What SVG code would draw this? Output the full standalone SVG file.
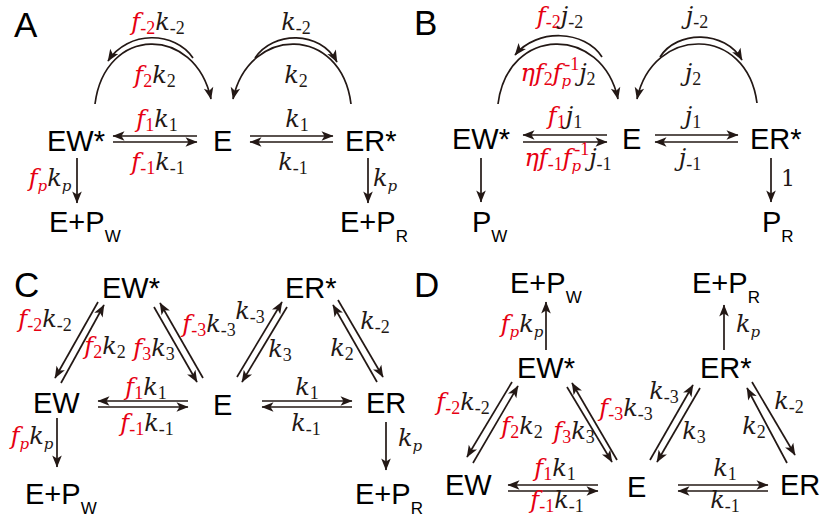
<svg xmlns="http://www.w3.org/2000/svg" width="820" height="527" viewBox="0 0 820 527">
<style>
.bg{fill:#fff}
.n{font-family:"Liberation Sans",Arial,sans-serif;font-size:29px;fill:#000}
.pl{font-family:"Liberation Sans",Arial,sans-serif;font-size:35px;fill:#000}
.sb{font-size:17px}
.m{font-family:"DejaVu Serif","Liberation Serif",serif;font-style:italic;font-size:24px;fill:#231815;text-anchor:middle}
.one{font-family:"DejaVu Serif","Liberation Serif",serif;font-size:22px;fill:#231815}
.r{fill:#e60012}
.s{font-family:"Liberation Serif",serif;font-size:18px;font-style:normal}
.sp{font-size:15px}
.ln{stroke:#231815;stroke-width:1.7;fill:none;marker-end:url(#ah)}
</style>
<defs>
<marker id="ah" viewBox="-13 -6 14 12" refX="0" refY="0" markerWidth="14" markerHeight="12" markerUnits="userSpaceOnUse" orient="auto">
<path d="M0.5,0 L-11.5,-4.8 L-8.5,0 L-11.5,4.8 Z" fill="#231815"/>
</marker>
</defs>
<rect class="bg" x="0" y="0" width="820" height="527"/>

<!-- Panel letters -->
<g id="labels">
<text class="pl" x="14" y="37">A</text>
<text class="pl" x="414" y="35">B</text>
<text class="pl" x="14" y="297">C</text>
<text class="pl" x="414" y="297">D</text>
</g>

<!-- Panel A nodes -->
<g id="A_EWs"><text class="n" x="47" y="151">EW*</text></g>
<g id="A_E"><text class="n" x="213" y="151">E</text></g>
<g id="A_ERs"><text class="n" x="345" y="151">ER*</text></g>
<g id="A_EPW"><text class="n" x="49" y="232">E+P<tspan class="sb" dy="10">W</tspan></text></g>
<g id="A_EPR"><text class="n" x="340" y="232">E+P<tspan class="sb" dy="10">R</tspan></text></g>

<!-- Panel B nodes -->
<g id="B_EWs"><text class="n" x="452" y="149">EW*</text></g>
<g id="B_E"><text class="n" x="622" y="149">E</text></g>
<g id="B_ERs"><text class="n" x="750" y="149">ER*</text></g>
<g id="B_PW"><text class="n" x="472" y="232">P<tspan class="sb" dy="10">W</tspan></text></g>
<g id="B_PR"><text class="n" x="762" y="232">P<tspan class="sb" dy="10">R</tspan></text></g>

<!-- Panel C nodes -->
<g id="C_EWs"><text class="n" x="102" y="298">EW*</text></g>
<g id="C_ERs"><text class="n" x="285" y="298">ER*</text></g>
<g id="C_EW"><text class="n" x="33" y="413">EW</text></g>
<g id="C_E"><text class="n" x="213" y="415">E</text></g>
<g id="C_ER"><text class="n" x="366" y="413">ER</text></g>
<g id="C_EPW"><text class="n" x="25" y="504">E+P<tspan class="sb" dy="10">W</tspan></text></g>
<g id="C_EPR"><text class="n" x="355" y="504">E+P<tspan class="sb" dy="10">R</tspan></text></g>

<!-- Panel D nodes -->
<g id="D_EPW"><text class="n" x="510" y="293">E+P<tspan class="sb" dy="10">W</tspan></text></g>
<g id="D_EPR"><text class="n" x="692" y="293">E+P<tspan class="sb" dy="10">R</tspan></text></g>
<g id="D_EWs"><text class="n" x="517" y="378">EW*</text></g>
<g id="D_ERs"><text class="n" x="700" y="378">ER*</text></g>
<g id="D_EW"><text class="n" x="445" y="495">EW</text></g>
<g id="D_E"><text class="n" x="627" y="497">E</text></g>
<g id="D_ER"><text class="n" x="780" y="495">ER</text></g>

<!-- Connectors -->
<g id="connectors">
<!-- A -->
<path class="ln" d="M95,104 C105,25 195,25 211,99"/>
<path class="ln" d="M193,58 C175,31 128,30 108,61"/>
<path class="ln" d="M351,104 C341,25 249,25 233,99"/>
<path class="ln" d="M255,58 C273,31 320,30 337,62"/>
<path class="ln" d="M197,136 L113,136"/>
<path class="ln" d="M113,142 L197,142"/>
<path class="ln" d="M250,136 L333,136"/>
<path class="ln" d="M333,142 L250,142"/>
<path class="ln" d="M77,158 L77,203"/>
<path class="ln" d="M368,158 L368,203"/>
<!-- B -->
<path class="ln" d="M498,104 C508,25 602,25 618,99"/>
<path class="ln" d="M602,57 C585,30 537,28 515,55"/>
<path class="ln" d="M757,103 C747,25 653,25 637,99"/>
<path class="ln" d="M660,57 C677,30 725,30 742,60"/>
<path class="ln" d="M607,135 L523,135"/>
<path class="ln" d="M523,142 L607,142"/>
<path class="ln" d="M655,135 L738,135"/>
<path class="ln" d="M738,142 L655,142"/>
<path class="ln" d="M481,158 L481,202"/>
<path class="ln" d="M771,158 L771,202"/>
<!-- C -->
<path class="ln" d="M98,302 L55,378"/>
<path class="ln" d="M61,383 L104,305"/>
<path class="ln" d="M154,307 L197,382"/>
<path class="ln" d="M203,378 L160,303"/>
<path class="ln" d="M237,377 L282,302"/>
<path class="ln" d="M287,307 L242,382"/>
<path class="ln" d="M377,382 L333,305"/>
<path class="ln" d="M338,300 L383,377"/>
<path class="ln" d="M188,401 L98,401"/>
<path class="ln" d="M98,407 L188,407"/>
<path class="ln" d="M262,401 L352,401"/>
<path class="ln" d="M352,407 L262,407"/>
<path class="ln" d="M57,418 L57,467"/>
<path class="ln" d="M386,422 L386,470"/>
<!-- D -->
<path class="ln" d="M546,350 L546,302"/>
<path class="ln" d="M724,350 L724,305"/>
<path class="ln" d="M512,382 L467,457"/>
<path class="ln" d="M473,463 L518,386"/>
<path class="ln" d="M567,387 L612,462"/>
<path class="ln" d="M617,460 L572,383"/>
<path class="ln" d="M650,460 L693,385"/>
<path class="ln" d="M700,388 L657,462"/>
<path class="ln" d="M787,463 L747,388"/>
<path class="ln" d="M752,382 L795,455"/>
<path class="ln" d="M598,485 L508,485"/>
<path class="ln" d="M508,491 L598,491"/>
<path class="ln" d="M678,485 L768,485"/>
<path class="ln" d="M768,491 L678,491"/>
</g>

<!-- Rate labels -->
<g id="rates">
<!-- A -->
<text class="m" x="158" y="30"><tspan class="r">f</tspan><tspan class="r s" dy="4">-2</tspan><tspan dy="-4">k</tspan><tspan class="s" dy="4">-2</tspan></text>
<text class="m" x="155" y="83"><tspan class="r">f</tspan><tspan class="r s" dy="4">2</tspan><tspan dy="-4">k</tspan><tspan class="s" dy="4">2</tspan></text>
<text class="m" x="157" y="127"><tspan class="r">f</tspan><tspan class="r s" dy="4">1</tspan><tspan dy="-4">k</tspan><tspan class="s" dy="4">1</tspan></text>
<text class="m" x="158" y="170"><tspan class="r">f</tspan><tspan class="r s" dy="4">-1</tspan><tspan dy="-4">k</tspan><tspan class="s" dy="4">-1</tspan></text>
<text class="m" x="296" y="30">k<tspan class="s" dy="4">-2</tspan></text>
<text class="m" x="296" y="83">k<tspan class="s" dy="4">2</tspan></text>
<text class="m" x="297" y="127">k<tspan class="s" dy="4">1</tspan></text>
<text class="m" x="293" y="170">k<tspan class="s" dy="4">-1</tspan></text>
<text class="m" x="50" y="186"><tspan class="r">f</tspan><tspan class="r sp" dy="5">p</tspan><tspan dy="-5">k</tspan><tspan class="sp" dy="5">p</tspan></text>
<text class="m" x="385" y="186">k<tspan class="sp" dy="5">p</tspan></text>
<!-- B -->
<text class="m" x="560" y="24"><tspan class="r">f</tspan><tspan class="r s" dy="4">-2</tspan><tspan dy="-4">j</tspan><tspan class="s" dy="4">-2</tspan></text>
<text class="m" x="697" y="24">j<tspan class="s" dy="4">-2</tspan></text>
<text class="m" x="558" y="81"><tspan class="r">ηf</tspan><tspan class="r s" dy="4">2</tspan><tspan class="r" dy="-4">f</tspan><tspan class="r sp" dy="5">p</tspan><tspan class="r s" dx="-7" dy="-16">-1</tspan><tspan dy="11">j</tspan><tspan class="s" dy="4">2</tspan></text>
<text class="m" x="693" y="81">j<tspan class="s" dy="4">2</tspan></text>
<text class="m" x="565" y="124"><tspan class="r">f</tspan><tspan class="r s" dy="4">1</tspan><tspan dy="-4">j</tspan><tspan class="s" dy="4">1</tspan></text>
<text class="m" x="693" y="124">j<tspan class="s" dy="4">1</tspan></text>
<text class="m" x="568" y="166"><tspan class="r">ηf</tspan><tspan class="r s" dy="4">-1</tspan><tspan class="r" dy="-4">f</tspan><tspan class="r sp" dy="5">p</tspan><tspan class="r s" dx="-7" dy="-16">-1</tspan><tspan dy="11">j</tspan><tspan class="s" dy="4">-1</tspan></text>
<text class="m" x="690" y="166">j<tspan class="s" dy="4">-1</tspan></text>
<text class="one" x="781" y="186">1</text>
<!-- C -->
<text class="m" x="45" y="327"><tspan class="r">f</tspan><tspan class="r s" dy="4">-2</tspan><tspan dy="-4">k</tspan><tspan class="s" dy="4">-2</tspan></text>
<text class="m" x="105" y="354"><tspan class="r">f</tspan><tspan class="r s" dy="4">2</tspan><tspan dy="-4">k</tspan><tspan class="s" dy="4">2</tspan></text>
<text class="m" x="154" y="356"><tspan class="r">f</tspan><tspan class="r s" dy="4">3</tspan><tspan dy="-4">k</tspan><tspan class="s" dy="4">3</tspan></text>
<text class="m" x="209" y="332"><tspan class="r">f</tspan><tspan class="r s" dy="4">-3</tspan><tspan dy="-4">k</tspan><tspan class="s" dy="4">-3</tspan></text>
<text class="m" x="250" y="319">k<tspan class="s" dy="4">-3</tspan></text>
<text class="m" x="280" y="357">k<tspan class="s" dy="4">3</tspan></text>
<text class="m" x="342" y="356">k<tspan class="s" dy="4">2</tspan></text>
<text class="m" x="375" y="329">k<tspan class="s" dy="4">-2</tspan></text>
<text class="m" x="146" y="395"><tspan class="r">f</tspan><tspan class="r s" dy="4">1</tspan><tspan dy="-4">k</tspan><tspan class="s" dy="4">1</tspan></text>
<text class="m" x="147" y="431"><tspan class="r">f</tspan><tspan class="r s" dy="4">-1</tspan><tspan dy="-4">k</tspan><tspan class="s" dy="4">-1</tspan></text>
<text class="m" x="307" y="395">k<tspan class="s" dy="4">1</tspan></text>
<text class="m" x="306" y="431">k<tspan class="s" dy="4">-1</tspan></text>
<text class="m" x="32" y="444"><tspan class="r">f</tspan><tspan class="r sp" dy="5">p</tspan><tspan dy="-5">k</tspan><tspan class="sp" dy="5">p</tspan></text>
<text class="m" x="410" y="446">k<tspan class="sp" dy="5">p</tspan></text>
<!-- D -->
<text class="m" x="522" y="332"><tspan class="r">f</tspan><tspan class="r sp" dy="5">p</tspan><tspan dy="-5">k</tspan><tspan class="sp" dy="5">p</tspan></text>
<text class="m" x="748" y="332">k<tspan class="sp" dy="5">p</tspan></text>
<text class="m" x="463" y="410"><tspan class="r">f</tspan><tspan class="r s" dy="4">-2</tspan><tspan dy="-4">k</tspan><tspan class="s" dy="4">-2</tspan></text>
<text class="m" x="522" y="434"><tspan class="r">f</tspan><tspan class="r s" dy="4">2</tspan><tspan dy="-4">k</tspan><tspan class="s" dy="4">2</tspan></text>
<text class="m" x="574" y="439"><tspan class="r">f</tspan><tspan class="r s" dy="4">3</tspan><tspan dy="-4">k</tspan><tspan class="s" dy="4">3</tspan></text>
<text class="m" x="626" y="416"><tspan class="r">f</tspan><tspan class="r s" dy="4">-3</tspan><tspan dy="-4">k</tspan><tspan class="s" dy="4">-3</tspan></text>
<text class="m" x="664" y="399">k<tspan class="s" dy="4">-3</tspan></text>
<text class="m" x="694" y="439">k<tspan class="s" dy="4">3</tspan></text>
<text class="m" x="754" y="434">k<tspan class="s" dy="4">2</tspan></text>
<text class="m" x="789" y="409">k<tspan class="s" dy="4">-2</tspan></text>
<text class="m" x="555" y="476"><tspan class="r">f</tspan><tspan class="r s" dy="4">1</tspan><tspan dy="-4">k</tspan><tspan class="s" dy="4">1</tspan></text>
<text class="m" x="557" y="508"><tspan class="r">f</tspan><tspan class="r s" dy="4">-1</tspan><tspan dy="-4">k</tspan><tspan class="s" dy="4">-1</tspan></text>
<text class="m" x="725" y="476">k<tspan class="s" dy="4">1</tspan></text>
<text class="m" x="725" y="508">k<tspan class="s" dy="4">-1</tspan></text>
</g>
</svg>
